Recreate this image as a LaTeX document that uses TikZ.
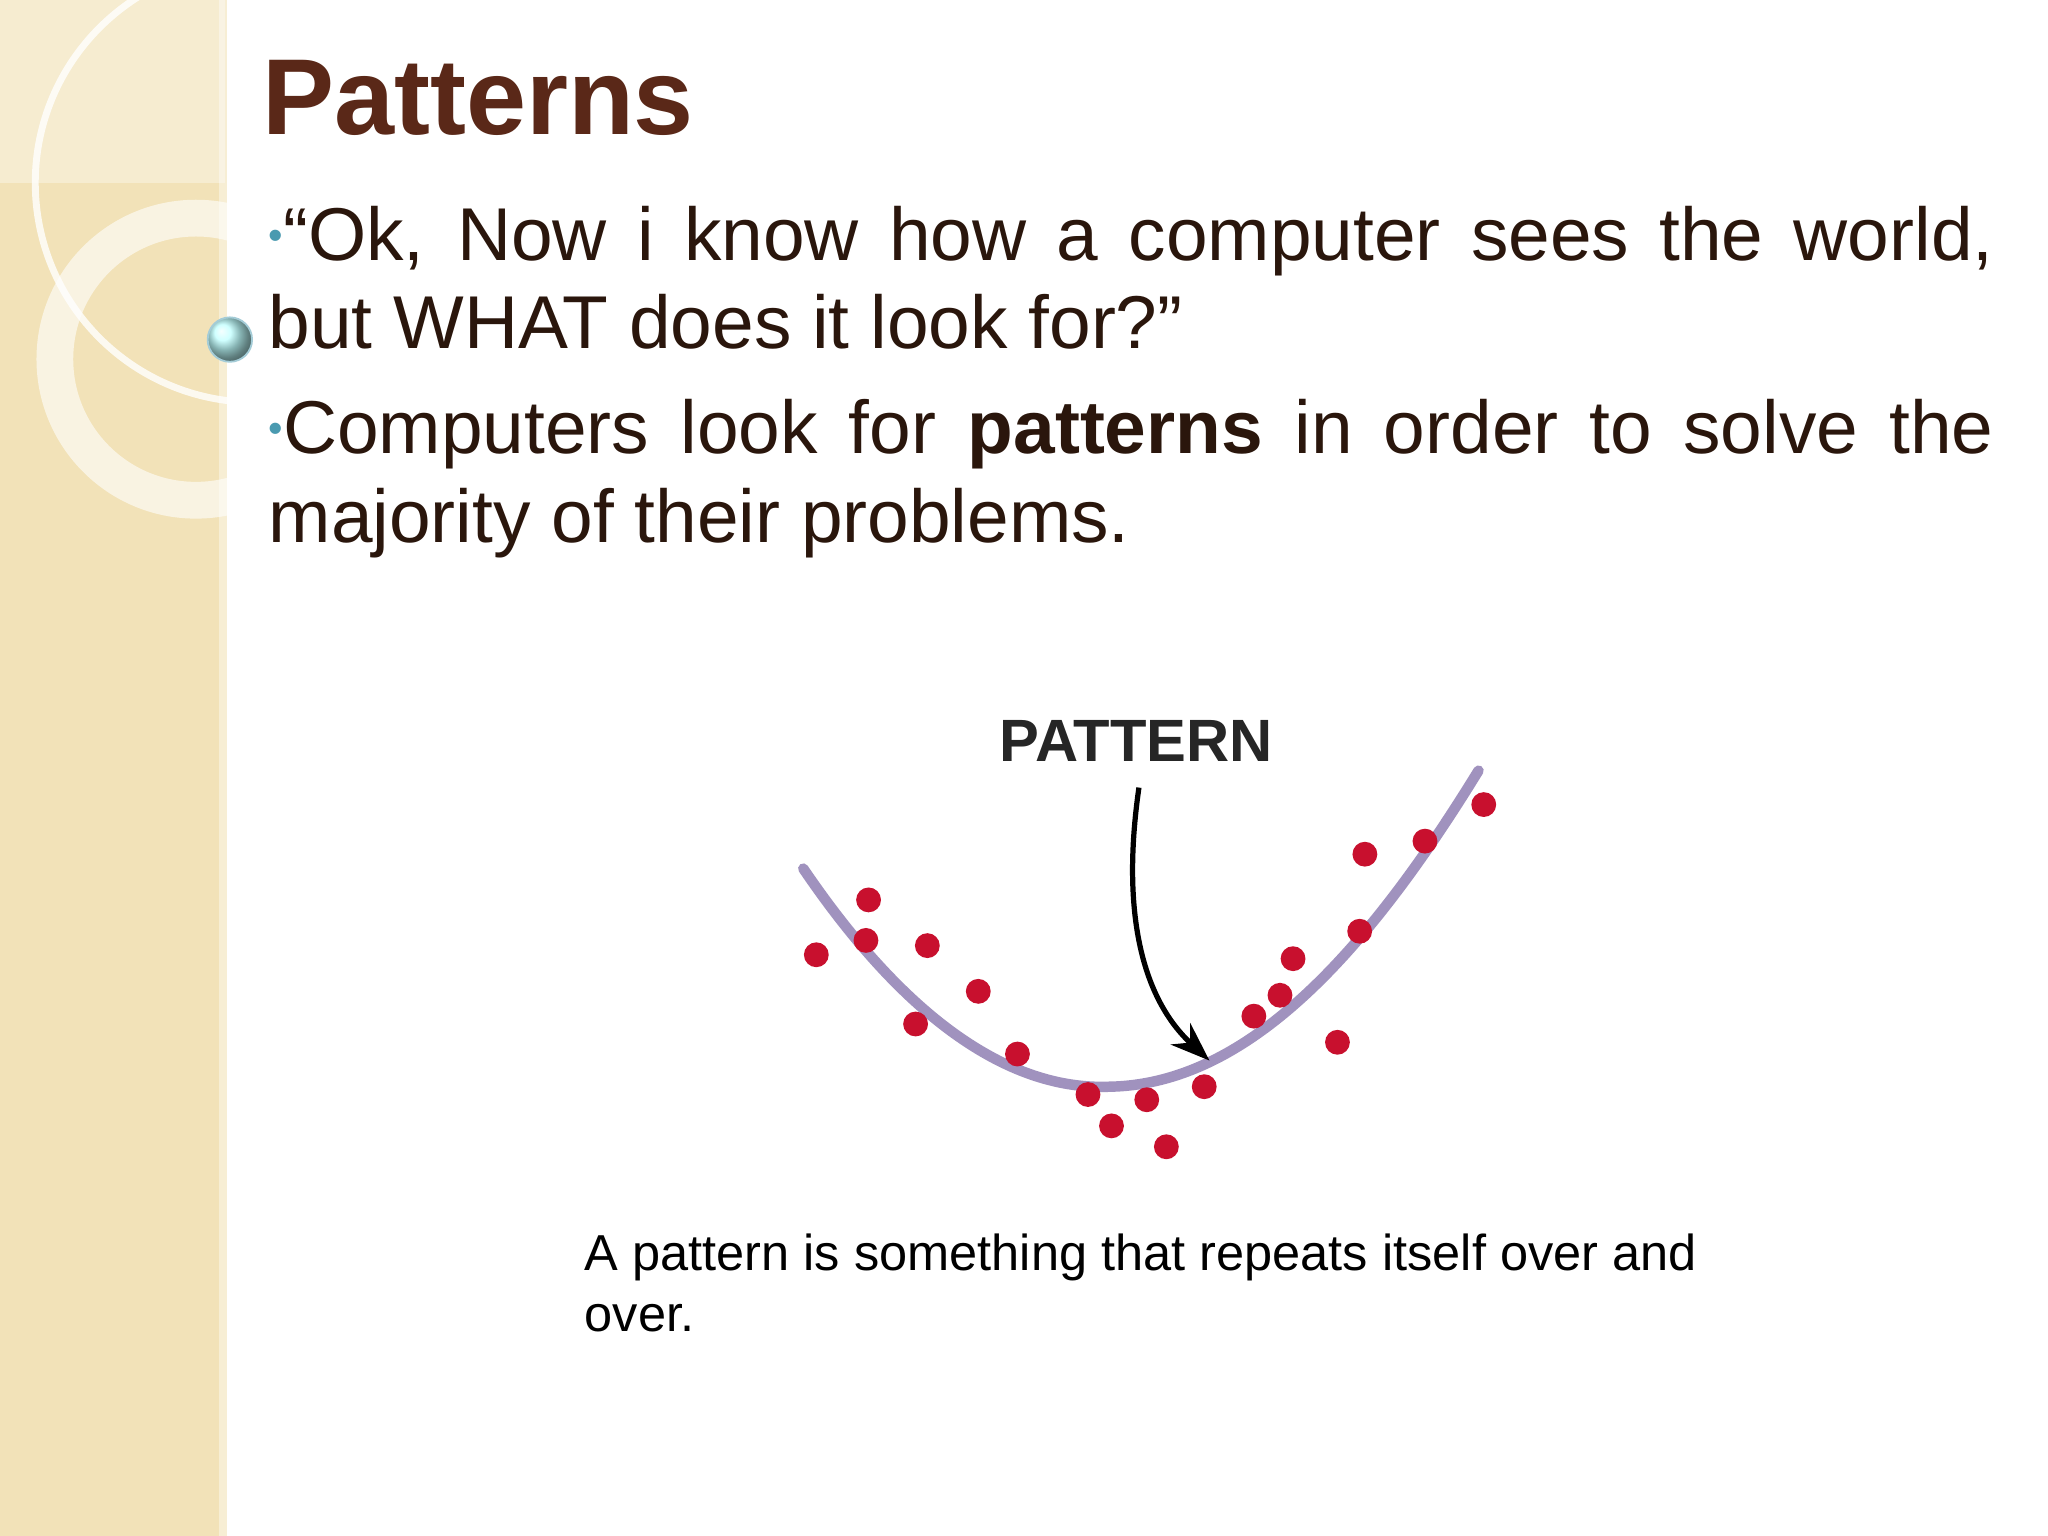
\documentclass[tikz,border=0pt]{standalone}
\usepackage{fontspec}
\setmainfont{Liberation Sans}
\usetikzlibrary{arrows.meta}
\definecolor{beige}{HTML}{F2E2B8}
\definecolor{titlebrown}{HTML}{5A2818}
\definecolor{textbrown}{HTML}{2A160C}
\definecolor{curvecol}{HTML}{A092BE}
\definecolor{dotred}{HTML}{C8102E}
\definecolor{bul}{HTML}{4A9AB0}
\tikzset{dot/.style={circle,fill=dotred,inner sep=0pt,minimum size=0.19cm},
 body/.style={anchor=north west,text width=13.2cm,align=justify,font=\fontsize{16.3}{19.3}\selectfont,text=textbrown,inner sep=0pt}}
\begin{document}
\begin{tikzpicture}[x=0.01cm,y=-0.01cm]
\useasboundingbox (0,0) rectangle (1568,1176);
\fill[white] (0,0) rectangle (1568,1176);
\fill[beige] (0,0) rectangle (172,1176);
\fill[beige!60!white] (168,0) rectangle (174,1176);
\begin{scope}
\clip (0,0) rectangle (174,1176);
\fill[white,opacity=0.35] (0,0) rectangle (172,140);
\draw[white,line width=1.5pt,opacity=0.8] (195,140) circle (168);
\draw[white,line width=8pt,opacity=0.6] (150,275) circle (108);
\end{scope}
\shade[ball color=cyan!25!white,draw=bul!50] (176,260) circle (17);
\node[anchor=base west,inner sep=0pt,font=\fontsize{23.5}{28}\selectfont\bfseries,text=titlebrown] (title) at (200,103) {Patterns};
\node[body] (b1) at (205,157) {{\color{bul}\fontsize{9}{9}\selectfont\raisebox{0.5ex}{•}}“Ok, Now i know how a computer sees the world,\linebreak but WHAT does it look for?”};
\node[body] (b2) at (205,305) {{\color{bul}\fontsize{9}{9}\selectfont\raisebox{0.5ex}{•}}Computers look for \textbf{patterns} in order to solve the majority of their problems.};
\node[anchor=north west,align=left,inner sep=0pt,font=\fontsize{11}{13.2}\selectfont] (cap) at (447,944) {A pattern is something that repeats itself over and\\over.};
\draw[curvecol,line width=0.08cm,line cap=round] (615,665) .. controls (700,790) and (780,835) .. (850,832) .. controls (950,830) and (1040,740) .. (1132,590);
\node[font=\fontsize{13}{16}\selectfont\bfseries,text=black!85] (lab) at (870,567) {PATTERN};
\coordinate (tip) at (926,812);
\draw[-{Stealth[length=0.3cm,width=0.22cm]},line width=0.04cm] (872,603) .. controls (858,700) and (875,765) .. (tip);
\foreach \x/\y [count=\i] in {665/689,625/731,663/720,710/724,749/759,701/784,779/807,833/838,878/842,922/832,851/862,893/878,960/778,980/762,990/734,1024/798,1041/713,1045/654,1091/644,1136/616}
  \node[dot] (d\i) at (\x,\y) {};
\end{tikzpicture}
\end{document}
